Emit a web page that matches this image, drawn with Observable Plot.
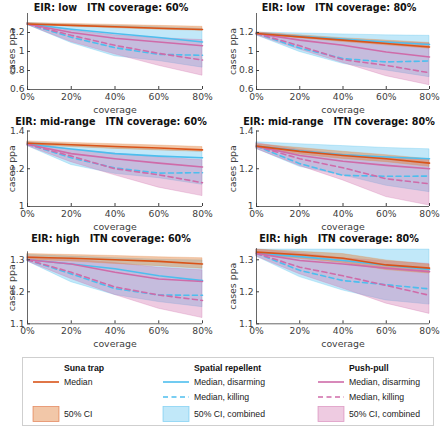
<!DOCTYPE html>
<html><head><meta charset="utf-8">
<script src="https://cdn.jsdelivr.net/npm/d3@7"></script>
<script src="https://cdn.jsdelivr.net/npm/@observablehq/plot@0.6"></script>
<style>
body{margin:0;background:#fff}
#wrap{position:relative;width:440px;height:428px;overflow:hidden}
.panel{position:absolute}
</style></head><body><div id="wrap"></div>
<script>
// ---- data ----
const coverage = [0, 20, 40, 60, 80];
const titles = [
  "EIR: low   ITN coverage: 60%", "EIR: low   ITN coverage: 80%",
  "EIR: mid-range   ITN coverage: 60%", "EIR: mid-range   ITN coverage: 80%",
  "EIR: high   ITN coverage: 60%", "EIR: high   ITN coverage: 80%"
];
const yDomains = [[0.6, 1.4], [0.6, 1.4], [1, 1.4], [1, 1.4], [1.1, 1.325], [1.1, 1.335]];
const yTicks = [[0.6, 0.8, 1, 1.2], [0.6, 0.8, 1, 1.2], [1, 1.2, 1.4], [1, 1.2, 1.4], [1.1, 1.2, 1.3], [1.1, 1.2, 1.3]];
const xTicks = [0, 20, 40, 60, 80];

// Suna trap
const sunaMedian = [
  [1.29, 1.275, 1.26, 1.245, 1.232],
  [1.19, 1.154, 1.12, 1.084, 1.048],
  [1.335, 1.327, 1.318, 1.31, 1.30],
  [1.32, 1.292, 1.27, 1.253, 1.23],
  [1.308, 1.305, 1.30, 1.295, 1.287],
  [1.324, 1.316, 1.305, 1.284, 1.274]
];
const sunaLo = [
  [1.28, 1.262, 1.245, 1.23, 1.218],
  [1.18, 1.14, 1.10, 1.065, 1.03],
  [1.325, 1.315, 1.305, 1.297, 1.29],
  [1.31, 1.275, 1.252, 1.235, 1.21],
  [1.30, 1.295, 1.287, 1.28, 1.272],
  [1.315, 1.303, 1.29, 1.268, 1.257]
];
const sunaHi = [
  [1.30, 1.29, 1.28, 1.27, 1.26],
  [1.20, 1.17, 1.14, 1.115, 1.09],
  [1.345, 1.337, 1.33, 1.323, 1.315],
  [1.33, 1.31, 1.29, 1.272, 1.25],
  [1.318, 1.315, 1.312, 1.308, 1.305],
  [1.332, 1.325, 1.318, 1.298, 1.285]
];
// Spatial repellent
const spDisarm = [
  [1.29, 1.235, 1.19, 1.147, 1.10],
  [1.19, 1.16, 1.13, 1.10, 1.073],
  [1.33, 1.305, 1.28, 1.267, 1.258],
  [1.32, 1.295, 1.274, 1.262, 1.253],
  [1.30, 1.287, 1.272, 1.25, 1.235],
  [1.32, 1.31, 1.298, 1.283, 1.27]
];
const spKill = [
  [1.29, 1.15, 1.04, 0.97, 0.96],
  [1.19, 1.037, 0.925, 0.89, 0.90],
  [1.33, 1.258, 1.204, 1.177, 1.179],
  [1.32, 1.227, 1.165, 1.16, 1.161],
  [1.30, 1.256, 1.21, 1.19, 1.189],
  [1.32, 1.267, 1.235, 1.222, 1.209]
];
const spLo = [
  [1.28, 1.09, 0.95, 0.90, 0.83],
  [1.17, 0.995, 0.87, 0.80, 0.73],
  [1.32, 1.22, 1.173, 1.15, 1.115],
  [1.305, 1.21, 1.165, 1.11, 1.076],
  [1.295, 1.23, 1.19, 1.168, 1.152],
  [1.31, 1.246, 1.204, 1.173, 1.16]
];
const spHi = [
  [1.30, 1.28, 1.27, 1.255, 1.24],
  [1.20, 1.19, 1.18, 1.17, 1.165],
  [1.34, 1.327, 1.315, 1.30, 1.29],
  [1.34, 1.33, 1.32, 1.31, 1.303],
  [1.315, 1.31, 1.305, 1.30, 1.298],
  [1.332, 1.332, 1.332, 1.332, 1.332]
];
// Push-pull
const ppDisarm = [
  [1.29, 1.20, 1.14, 1.10, 1.06],
  [1.19, 1.12, 1.066, 0.995, 0.942],
  [1.33, 1.28, 1.253, 1.23, 1.209],
  [1.32, 1.27, 1.24, 1.218, 1.20],
  [1.30, 1.287, 1.261, 1.24, 1.232],
  [1.32, 1.298, 1.287, 1.274, 1.263]
];
const ppKill = [
  [1.29, 1.17, 1.065, 0.98, 0.91],
  [1.19, 1.06, 0.914, 0.854, 0.776],
  [1.33, 1.267, 1.20, 1.168, 1.126],
  [1.32, 1.253, 1.205, 1.147, 1.12],
  [1.30, 1.261, 1.215, 1.19, 1.173],
  [1.32, 1.277, 1.25, 1.22, 1.189]
];
const ppLo = [
  [1.28, 1.10, 0.97, 0.85, 0.745],
  [1.17, 1.02, 0.88, 0.74, 0.645],
  [1.32, 1.235, 1.165, 1.10, 1.055],
  [1.305, 1.215, 1.138, 1.05, 1.005],
  [1.295, 1.24, 1.19, 1.147, 1.118],
  [1.31, 1.255, 1.21, 1.163, 1.131]
];
const ppHi = [
  [1.30, 1.22, 1.17, 1.14, 1.12],
  [1.20, 1.16, 1.12, 1.10, 1.083],
  [1.34, 1.30, 1.28, 1.26, 1.245],
  [1.335, 1.30, 1.275, 1.26, 1.245],
  [1.31, 1.30, 1.29, 1.275, 1.267],
  [1.332, 1.32, 1.305, 1.295, 1.287]
];

// ---- style ----
const ORANGE = "#D95319", ORANGE_FILL = "#E2823F";
const BLUE = "#4DBEEE";
const PINK = "#CF6BA9";
const AX = "#404040";
const fmtY = d => String(+d.toFixed(2));

// ---- layout ----
const cols = [{left: 0, ml: 27, mr: 18, tdx: -4, ldx: -16}, {left: 220, ml: 36, mr: 11, tdx: -4, ldx: -23.5}];
const rows = [
  {top: 0, H: 118, titleY: 7},
  {top: 117, H: 118, titleY: 121},
  {top: 236, H: 118, titleY: 238.5}
];
function frameY(i) {
  const r = Math.floor(i / 2);
  if (r === 0) return [13, 89];
  if (r === 1) return [130.5, 206];
  const top = 259.3 - (yDomains[i][1] - 1.3) * 320;
  return [top, 323.3];
}

const wrap = document.getElementById("wrap");

for (let i = 0; i < 6; i++) {
  const col = cols[i % 2], row = rows[Math.floor(i / 2)];
  const [ft, fb] = frameY(i);
  const mt = ft - row.top, mb = row.top + row.H - fb;
  const data = coverage.map((c, j) => ({
    c,
    sm: sunaMedian[i][j], sl: sunaLo[i][j], sh: sunaHi[i][j],
    sd: spDisarm[i][j], sk: spKill[i][j], spl: spLo[i][j], sph: spHi[i][j],
    pd: ppDisarm[i][j], pk: ppKill[i][j], ppl: ppLo[i][j], pph: ppHi[i][j]
  }));
  const band = (y1, y2, color, op) => Plot.areaY(data, {x: "c", y1, y2, fill: color, fillOpacity: op, stroke: color, strokeOpacity: 0.45, strokeWidth: 0.6});
  const ln = (y, color, dash) => Plot.line(data, {x: "c", y, stroke: color, strokeWidth: 1.6, strokeDasharray: dash});
  const svg = Plot.plot({
    width: 220, height: row.H,
    marginLeft: col.ml, marginRight: col.mr, marginTop: mt, marginBottom: mb,
    x: {domain: [0, 80]},
    y: {domain: yDomains[i]},
    style: {fontFamily: "DejaVu Sans", fontSize: "9.2px", color: AX, background: "transparent", overflow: "visible"},
    marks: [
      band("spl", "sph", BLUE, 0.35),
      band("ppl", "pph", PINK, 0.35),
      band("sl", "sh", ORANGE_FILL, 0.45),
      ln("sd", BLUE, null),
      ln("sk", BLUE, "5,3.5"),
      ln("pd", PINK, null),
      ln("pk", PINK, "5,3.5"),
      ln("sm", ORANGE, null),
      Plot.ruleX([0], {stroke: AX, strokeWidth: 0.8}),
      Plot.ruleY([yDomains[i][0]], {stroke: AX, strokeWidth: 0.8}),
      Plot.axisX({ticks: xTicks, tickFormat: d => d + "%", tickSize: -3, tickPadding: 7, label: null, stroke: AX}),
      Plot.axisY({ticks: yTicks[i], tickFormat: fmtY, tickSize: -3, tickPadding: 6, label: null, stroke: AX}),
      Plot.text(["coverage"], {frameAnchor: "bottom", lineAnchor: "middle", textAnchor: "middle", dy: 20, fill: AX, fontSize: 9.4}),
      Plot.text(["cases ppa"], {frameAnchor: "left", textAnchor: "middle", lineAnchor: "middle", rotate: -90, dx: col.ldx, fill: AX, fontSize: 9.4}),
      Plot.text([titles[i]], {frameAnchor: "top", lineAnchor: "middle", textAnchor: "middle", dy: row.titleY - ft, dx: col.tdx, fontWeight: "bold", fontSize: 9.6, fill: "#111"})
    ]
  });
  svg.classList.add("panel");
  svg.style.left = col.left + "px";
  svg.style.top = row.top + "px";
  wrap.appendChild(svg);
}

// ---- legend ----
const legendGroups = ["Suna trap", "Spatial repellent", "Push-pull"];
const legendColors = [ORANGE, BLUE, PINK];
const legendFills = [ORANGE_FILL, BLUE, PINK];
const legendRows = [
  ["Median", null, "50% CI"],
  ["Median, disarming", "Median, killing", "50% CI, combined"],
  ["Median, disarming", "Median, killing", "50% CI, combined"]
];
const lg = d3.select(wrap).append("svg")
  .attr("width", 440).attr("height", 428)
  .style("position", "absolute").style("left", "0px").style("top", "0px")
  .style("font-family", "'Liberation Sans', Arial, sans-serif").style("font-size", "8.7px");
lg.append("rect").attr("x", 22.5).attr("y", 357.5).attr("width", 411).attr("height", 68)
  .attr("fill", "#fff").attr("stroke", "#cfcfcf").attr("stroke-width", 1);
const gx = [33, 163, 318];
const rowY = [382, 397, 414];
legendGroups.forEach((name, g) => {
  const x0 = gx[g], tx = x0 + 31;
  lg.append("text").attr("x", tx).attr("y", 368).attr("dy", "0.35em").attr("font-weight", "bold").attr("fill", "#111").text(name);
  legendRows[g].forEach((lab, r) => {
    if (!lab) return;
    const y = rowY[r];
    if (r < 2) {
      lg.append("line").attr("x1", x0).attr("x2", x0 + 26).attr("y1", y).attr("y2", y)
        .attr("stroke", legendColors[g]).attr("stroke-width", 1.6)
        .attr("stroke-dasharray", r === 1 ? "5,3.5" : null);
    } else {
      lg.append("rect").attr("x", x0).attr("y", y - 7.5).attr("width", 26).attr("height", 15)
        .attr("fill", legendFills[g]).attr("fill-opacity", g === 0 ? 0.45 : 0.35)
        .attr("stroke", legendColors[g]).attr("stroke-opacity", 0.6).attr("stroke-width", 0.8);
    }
    lg.append("text").attr("x", tx).attr("y", y).attr("dy", "0.35em").attr("fill", "#222").text(lab);
  });
});
</script>
</body></html>
